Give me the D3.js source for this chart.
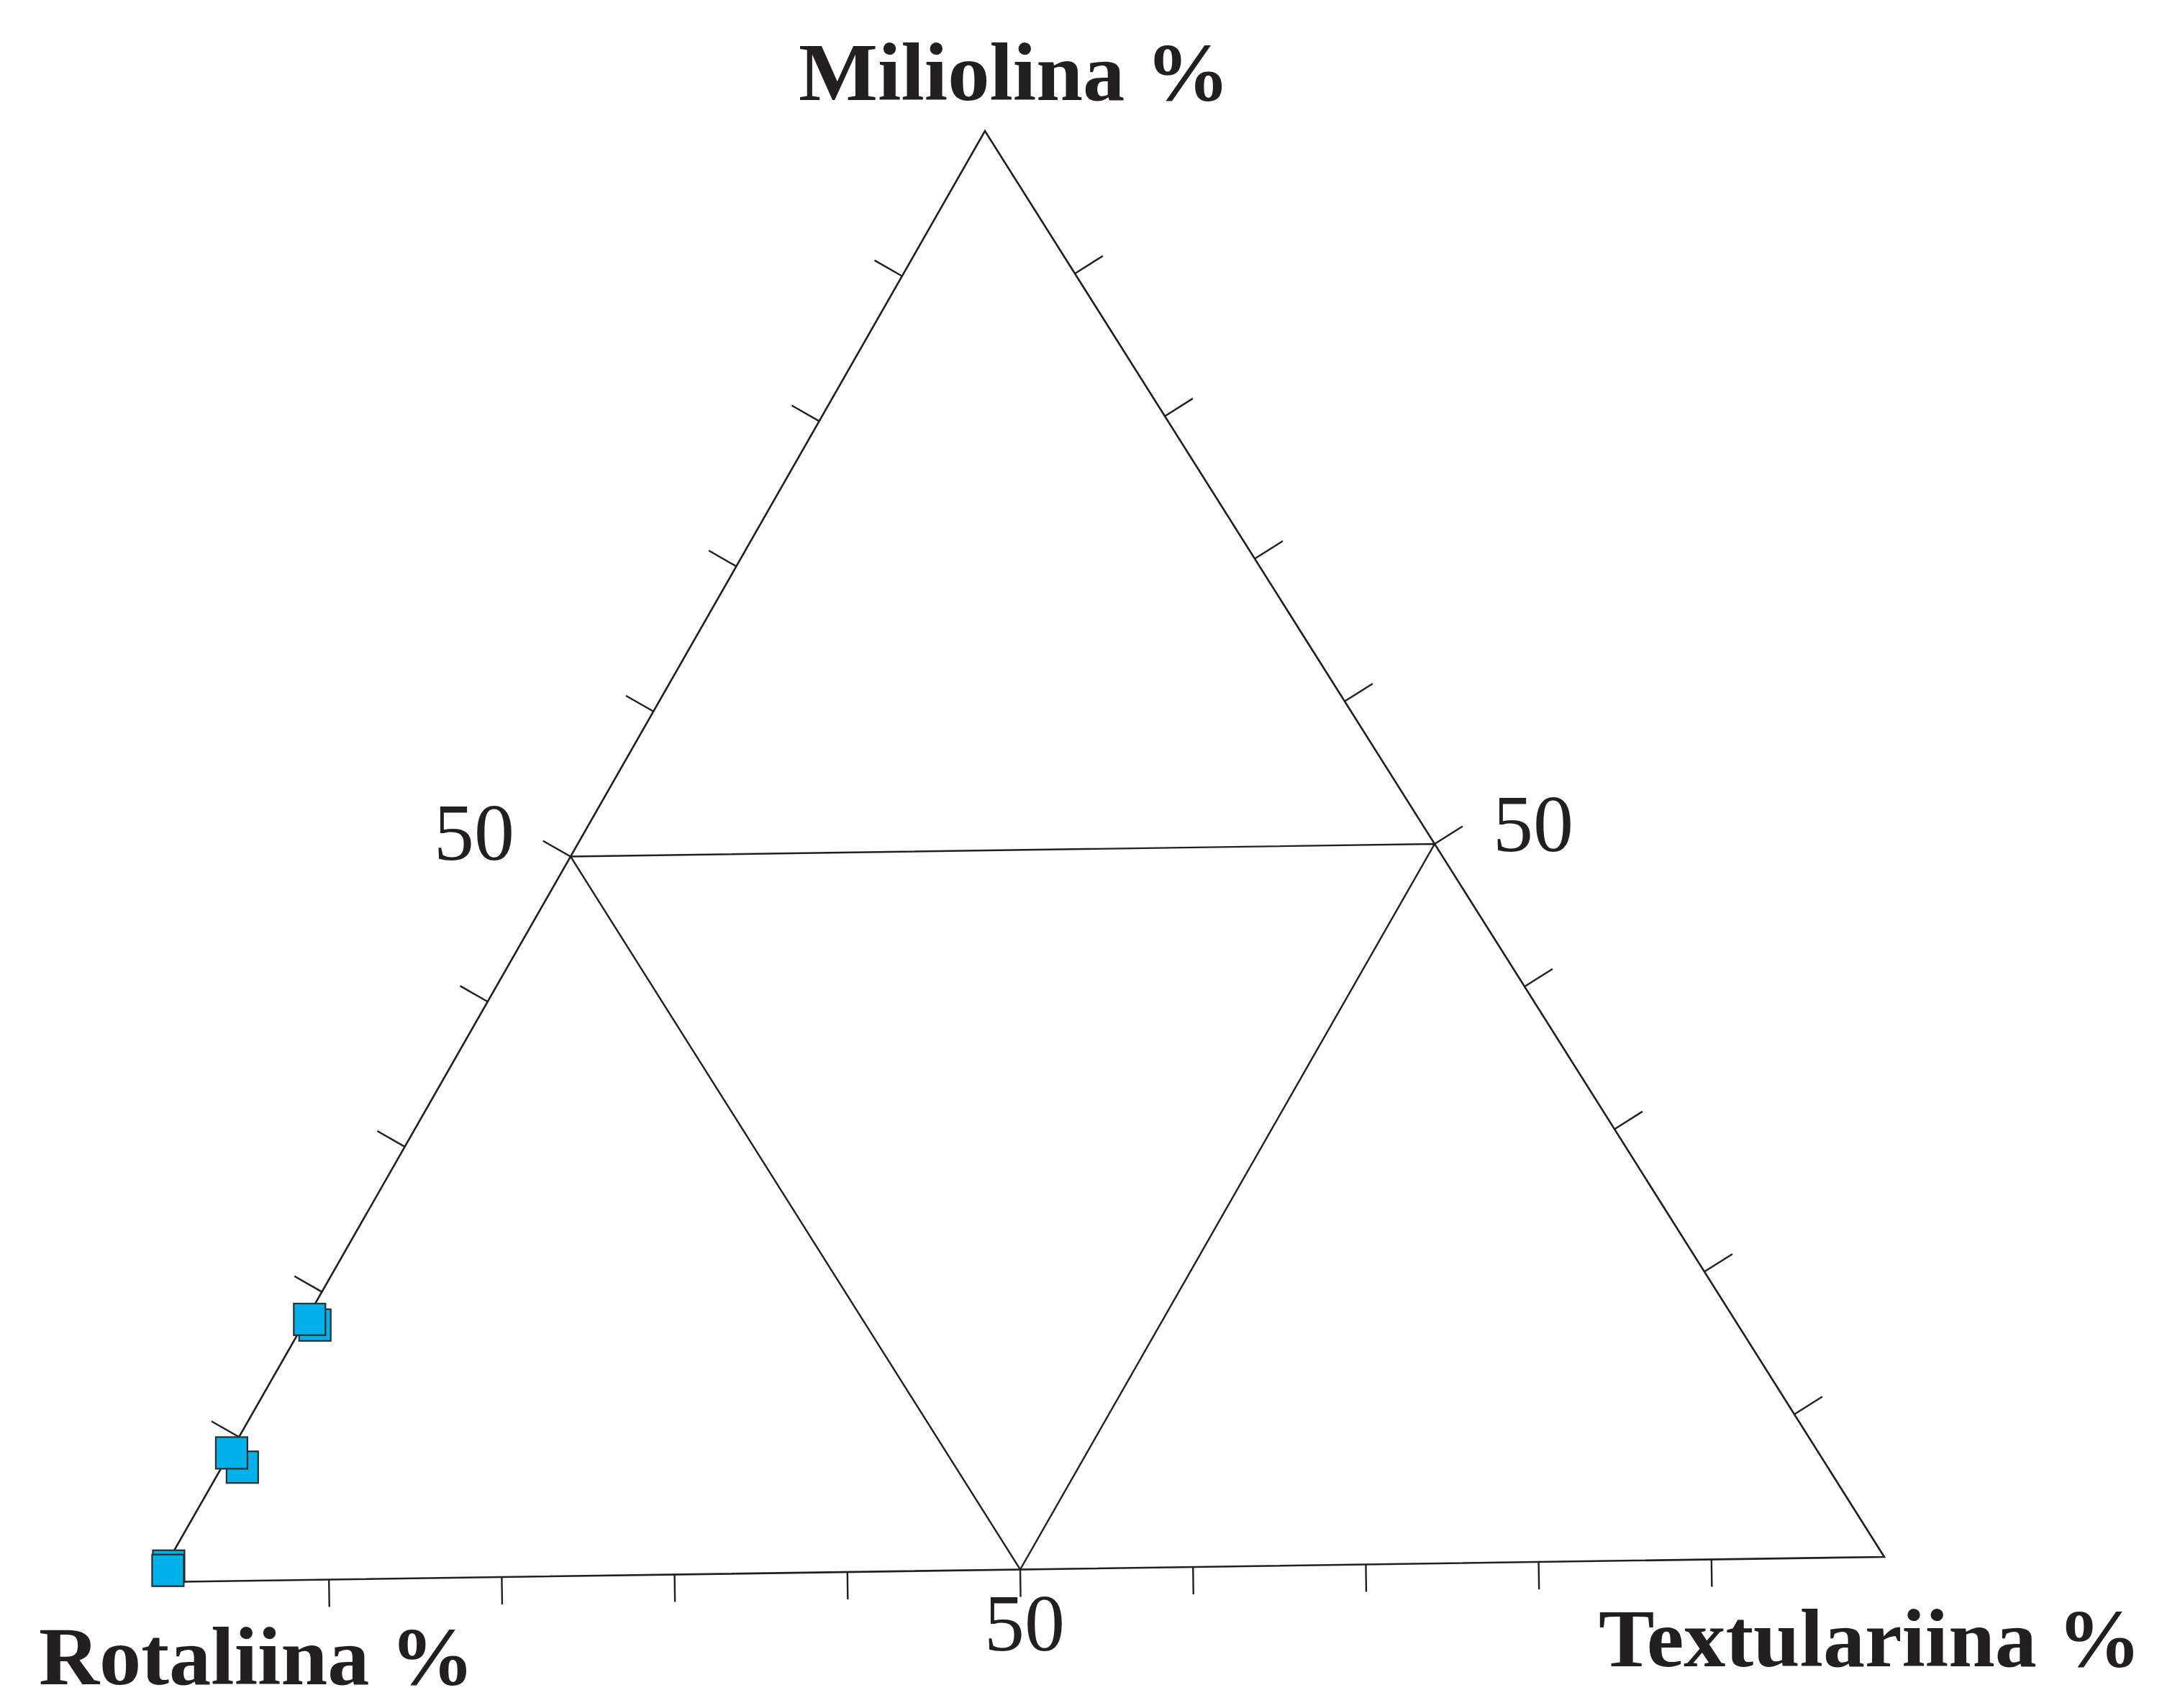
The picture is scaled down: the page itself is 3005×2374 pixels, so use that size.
<!DOCTYPE html>
<html>
<head>
<meta charset="utf-8">
<script src="https://cdn.jsdelivr.net/npm/d3@7"></script>
<style>
  body { margin: 0; background: #fff; }
</style>
</head>
<body>
<div id="chart"></div>
<script>
// samples, drawn in this order (later ones sit on top)
const rotaliina    = [81.6, 81.7, 90.9, 91.0, 98.7, 98.9];
const miliolina    = [17.7, 18.1,  7.9,  8.9,  1.1,  0.8];
const textulariina = [ 0.7,  0.2,  1.2,  0.1,  0.2,  0.3];

const tickValues = [10, 20, 30, 40, 50, 60, 70, 80, 90];
const labelValues = [50];
const axisNames = ["Rotaliina %", "Miliolina %", "Textulariina %"];

const width = 3005, height = 2374;
const ink = "#231f20";

// triangle corners (page pixels): Rotaliina, Miliolina, Textulariina
const L = [217, 2199], T = [1369, 182], R = [2619, 2164];

const svg = d3.select("#chart")
  .append("svg")
    .attr("width", width)
    .attr("height", height);

// percent -> fraction
const frac = d3.scaleLinear().domain([0, 100]).range([0, 1]);

// ternary -> pixel
function project(r, m, t) {
  let s = r + m + t;
  let a = frac(r * 100 / s), b = frac(m * 100 / s), c = frac(t * 100 / s);
  return [a * L[0] + b * T[0] + c * R[0], a * L[1] + b * T[1] + c * R[1]];
}

const line = d3.line();

// outer triangle
svg.append("path")
  .attr("d", line([L, T, R]) + "Z")
  .attr("fill", "none")
  .attr("stroke", ink)
  .attr("stroke-width", 2.6)
  .attr("stroke-linejoin", "miter");

// inner triangle through the 50% points
let mL = project(50, 50, 0), mR = project(0, 50, 50), mB = project(50, 0, 50);
svg.append("path")
  .attr("d", line([mL, mR, mB]) + "Z")
  .attr("fill", "none")
  .attr("stroke", ink)
  .attr("stroke-width", 2.4);

// ticks along each edge, pointing outward
let centre = project(1, 1, 1);
let edges = [
  { pos: v => project(100 - v, v, 0), len: 44 },   // left edge
  { pos: v => project(0, v, 100 - v), len: 46 },   // right edge
  { pos: v => project(100 - v, 0, v), len: 38 }    // base
];

edges.forEach(e => {
  let a = e.pos(0), b = e.pos(100);
  let dx = b[0] - a[0], dy = b[1] - a[1];
  let n = Math.hypot(dx, dy);
  let nx = -dy / n, ny = dx / n;
  // flip normal away from the centre
  let mid = e.pos(50);
  if ((mid[0] - centre[0]) * nx + (mid[1] - centre[1]) * ny < 0) { nx = -nx; ny = -ny; }

  svg.append("g")
    .selectAll("line")
    .data(tickValues)
    .enter()
    .append("line")
      .attr("x1", d => e.pos(d)[0])
      .attr("y1", d => e.pos(d)[1])
      .attr("x2", d => e.pos(d)[0] + nx * e.len)
      .attr("y2", d => e.pos(d)[1] + ny * e.len)
      .attr("stroke", ink)
      .attr("stroke-width", 2.4);
});

// 50 labels
let numFont = "'Liberation Serif', 'Times New Roman', serif";
labelValues.forEach(v => {
  let pl = project(100 - v, v, 0);
  svg.append("text")
    .attr("x", pl[0] - 78).attr("y", pl[1] + 4)
    .attr("text-anchor", "end")
    .style("font-family", numFont).style("font-size", "112px").style("fill", ink)
    .text(v);
  let pr = project(0, v, 100 - v);
  svg.append("text")
    .attr("x", pr[0] + 81).attr("y", pr[1] + 10)
    .attr("text-anchor", "start")
    .style("font-family", numFont).style("font-size", "112px").style("fill", ink)
    .text(v);
  let pb = project(100 - v, 0, v);
  svg.append("text")
    .attr("x", pb[0] + 6).attr("y", pb[1] + 112)
    .attr("text-anchor", "middle")
    .style("font-family", numFont).style("font-size", "112px").style("fill", ink)
    .text(v);
});

// corner titles (bold serif)
let titles = [
  { text: axisNames[1], x: 1110, y: 139,  w: 599 },
  { text: axisNames[0], x: 54,   y: 2341, w: 605 },
  { text: axisNames[2], x: 2222, y: 2316, w: 754 }
];
svg.append("g")
  .selectAll("text")
  .data(titles)
  .enter()
  .append("text")
    .attr("x", d => d.x)
    .attr("y", d => d.y)
    .attr("textLength", d => d.w)
    .attr("lengthAdjust", "spacingAndGlyphs")
    .style("font-family", numFont)
    .style("font-weight", "bold")
    .style("font-size", "114px")
    .style("fill", ink)
    .text(d => d.text);

// sample squares
const side = 44;
svg.append("g")
  .selectAll("rect")
  .data(rotaliina.map((r, i) => project(r, miliolina[i], textulariina[i])))
  .enter()
  .append("rect")
    .attr("x", d => d[0] - side / 2)
    .attr("y", d => d[1] - side / 2)
    .attr("width", side)
    .attr("height", side)
    .style("fill", "#00b0e8")
    .style("stroke", "#2e2e2e")
    .style("stroke-width", 2.2);
</script>
</body>
</html>
